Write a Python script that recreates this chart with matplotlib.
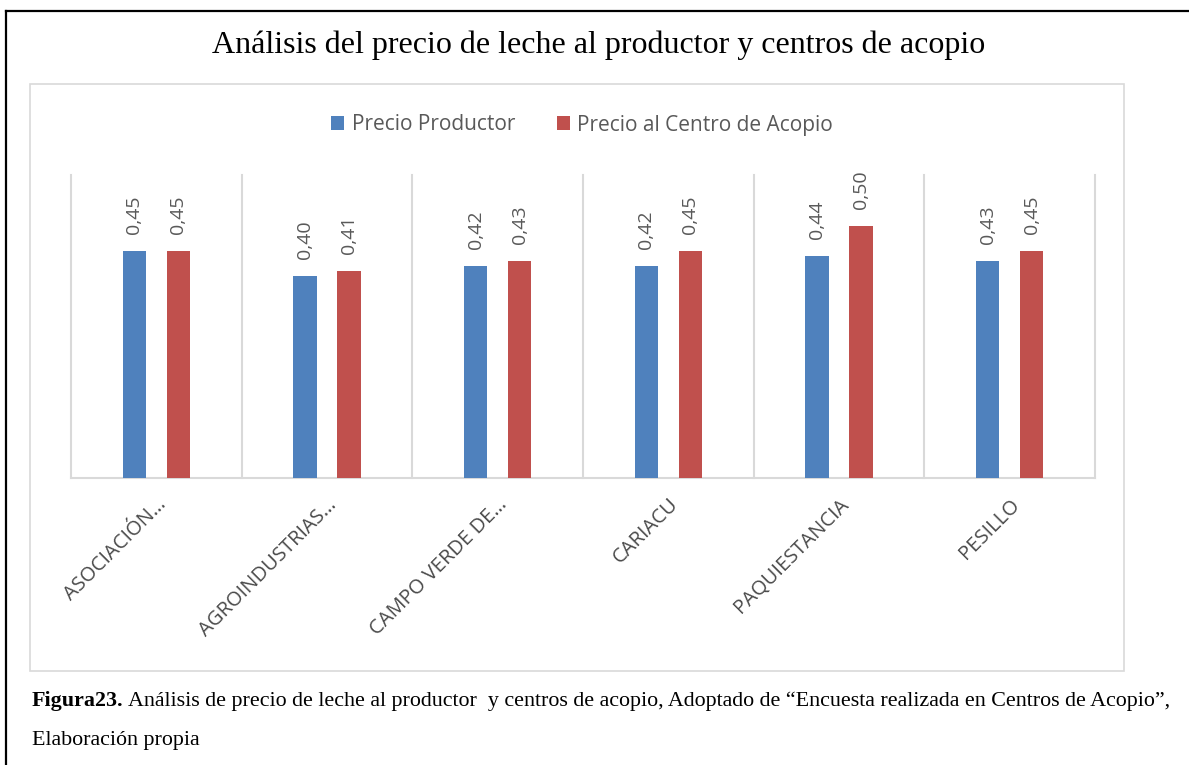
import numpy as np
import matplotlib
matplotlib.use("Agg")
import matplotlib.pyplot as plt
from matplotlib.patches import Rectangle
from matplotlib.lines import Line2D

# Data
categories = [
    "ASOCIACIÓN…",
    "AGROINDUSTRIAS…",
    "CAMPO VERDE DE…",
    "CARIACU",
    "PAQUIESTANCIA",
    "PESILLO",
]
precio_productor = [0.45, 0.40, 0.42, 0.42, 0.44, 0.43]
precio_centro = [0.45, 0.41, 0.43, 0.45, 0.50, 0.45]
series_names = ["Precio Productor", "Precio al Centro de Acopio"]

blue = "#4f81bd"
red = "#c0504d"
grid_gray = "#d9d9d9"
text_gray = "#595959"

W, H = 1189, 765
fig = plt.figure(figsize=(W / 100, H / 100), dpi=100)

# Outer border (black) and inner chart frame (light gray)
fig.add_artist(Line2D([6 / W, 6 / W], [0, 1 - 11 / H], color="black", lw=1.6,
                      transform=fig.transFigure))
fig.add_artist(Line2D([6 / W, 1], [1 - 11 / H, 1 - 11 / H], color="black", lw=1.6,
                      transform=fig.transFigure))
fig.add_artist(Rectangle((30 / W, 1 - 671 / H), (1124 - 30) / W, (671 - 84) / H,
                         fill=False, edgecolor=grid_gray, lw=1.2,
                         transform=fig.transFigure))

# Title
fig.text(599 / W, 1 - 45 / H, "Análisis del precio de leche al productor y centros de acopio",
         ha="center", va="center", fontsize=23, family="Liberation Serif")

# Plot area
ax = fig.add_axes([71 / W, 1 - 478 / H, (1095 - 71) / W, (478 - 175) / H])
x = np.arange(len(categories))
bw = 0.135
off = 0.129
b1 = ax.bar(x - off, precio_productor, bw, color=blue, label=series_names[0], zorder=3)
b2 = ax.bar(x + off, precio_centro, bw, color=red, label=series_names[1], zorder=3)

ax.set_xlim(-0.5, len(categories) - 0.5)
ax.set_ylim(0, 0.6)
ax.set_yticks([])

for spine in ["top", "left", "right"]:
    ax.spines[spine].set_visible(False)
ax.spines["bottom"].set_color(grid_gray)
ax.spines["bottom"].set_linewidth(1.5)

# category separators
for b in np.arange(-0.5, len(categories), 1):
    ax.axvline(b, color=grid_gray, lw=1.5, zorder=1, clip_on=False)

# value labels
for bars in (b1, b2):
    for r in bars:
        v = r.get_height()
        ax.annotate(f"{v:.2f}".replace(".", ","),
                    (r.get_x() + r.get_width() / 2, v),
                    xytext=(0, 12), textcoords="offset points",
                    rotation=90, ha="center", va="bottom",
                    color=text_gray, fontsize=14, family="Open Sans")

ax.set_xticks(x)
ax.set_xticklabels(categories, rotation=45, ha="right", rotation_mode="anchor",
                   fontsize=14.5, color="#4a4a4a", family="Open Sans")
ax.tick_params(axis="x", length=0, pad=12)

# Legend
fig.legend(handles=[b1, b2], labels=series_names, loc="center",
           bbox_to_anchor=(582 / W, 1 - 125 / H), ncol=2, frameon=False,
           prop={"family": "Open Sans", "size": 15}, labelcolor=text_gray,
           handlelength=0.65, handleheight=0.65, handletextpad=0.35,
           columnspacing=2.0)

# Caption
cap_y1 = 1 - 701 / H
t = fig.text(32 / W, cap_y1, "Figura23.", fontsize=15.8, fontweight="bold",
             family="Liberation Serif", va="center")
fig.canvas.draw()
bb = t.get_window_extent()
fig.text((bb.x1 + 4) / W, cap_y1,
         "Análisis de precio de leche al productor  y centros de acopio, Adoptado de "
         "“Encuesta realizada en Centros de Acopio”,",
         fontsize=15.8, family="Liberation Serif", va="center")
fig.text(32 / W, 1 - 741 / H, "Elaboración propia", fontsize=15.8,
         family="Liberation Serif", va="center")

fig.savefig("out.png", dpi=100)
plt.close(fig)
